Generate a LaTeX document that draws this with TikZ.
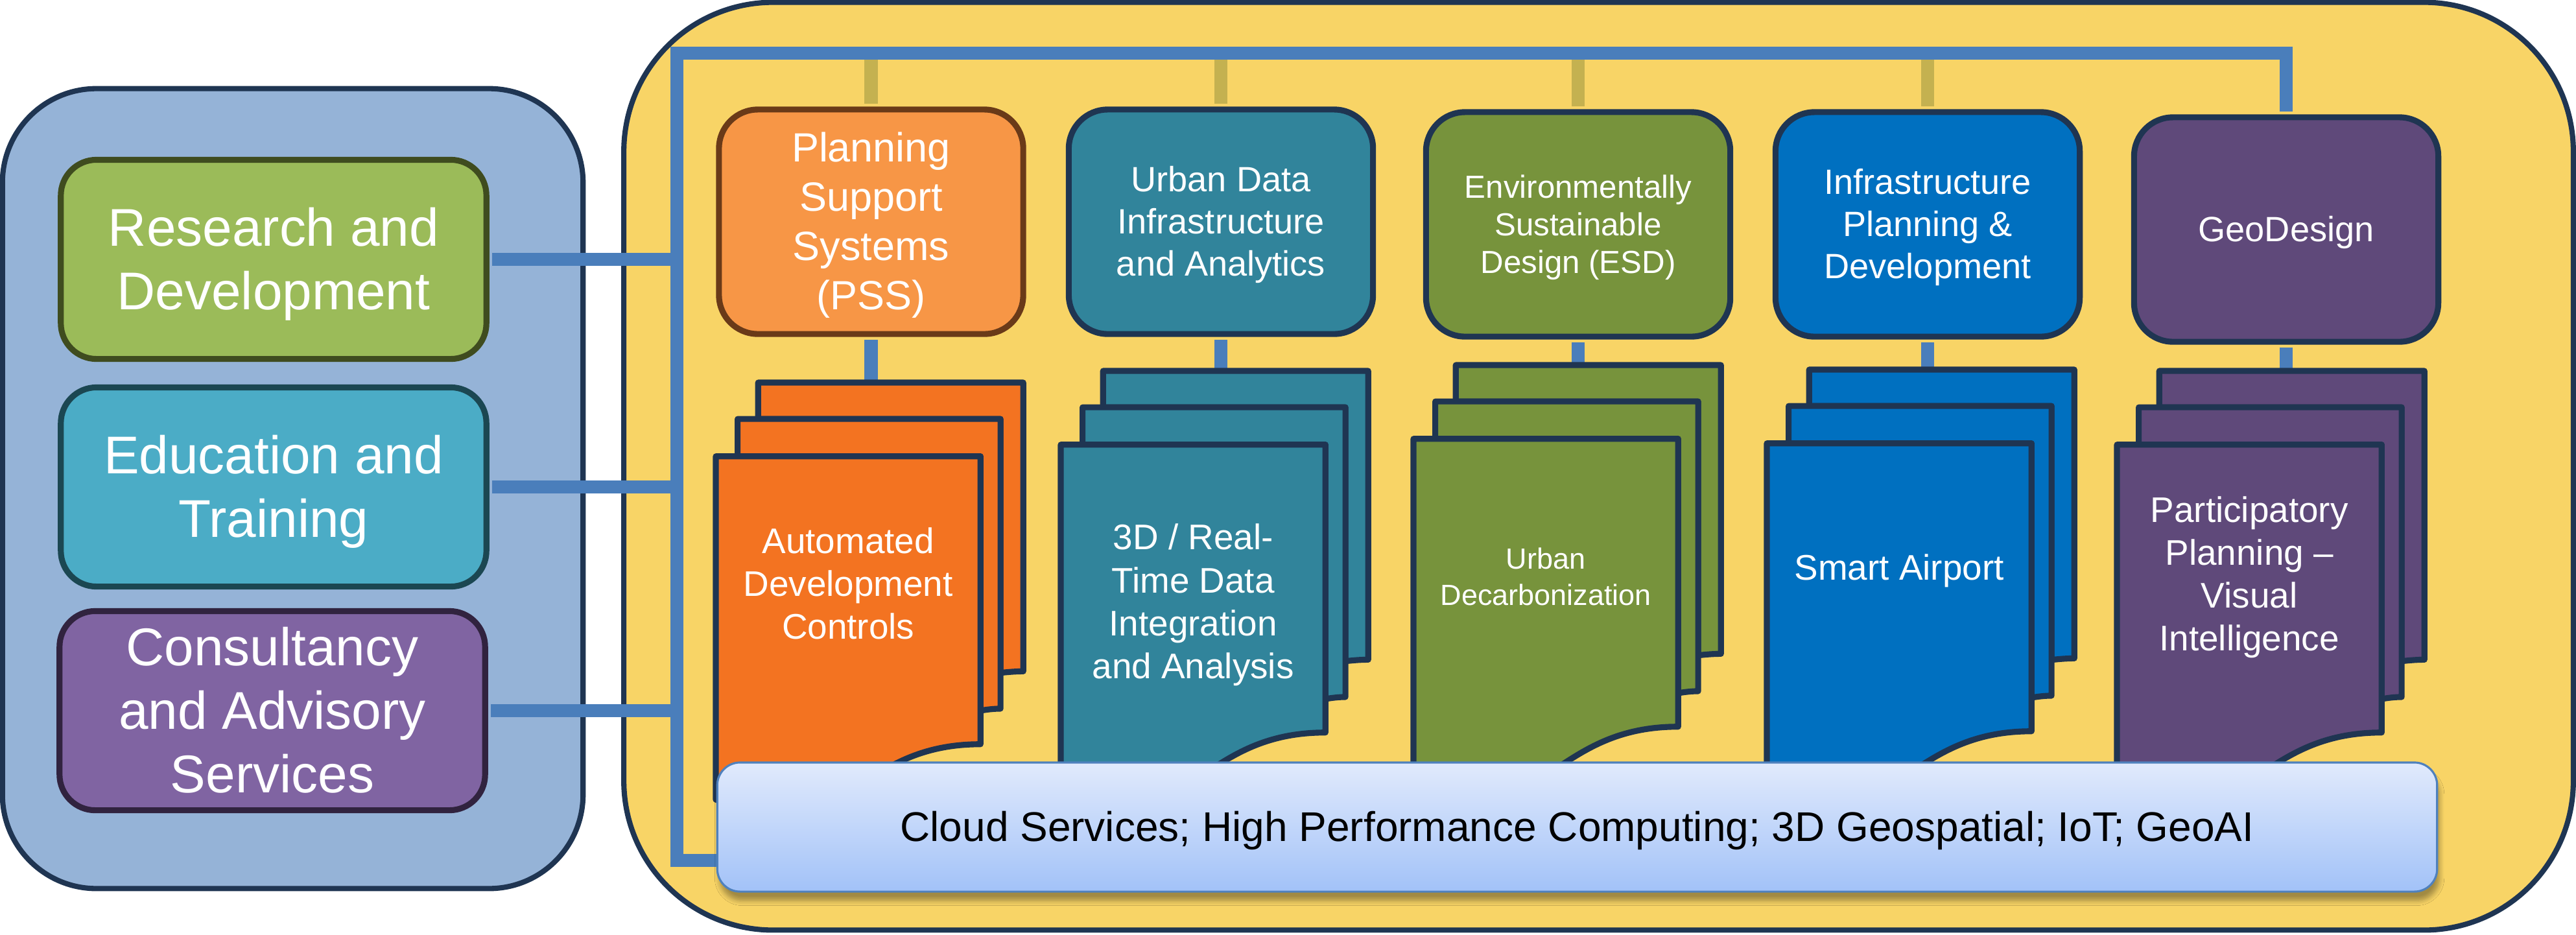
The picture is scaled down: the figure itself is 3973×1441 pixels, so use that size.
\documentclass[tikz,border=0pt]{standalone}
\usepackage{fontspec}
\setmainfont{Liberation Sans}
\usetikzlibrary{shadows.blur}
\definecolor{navy}{HTML}{1F3552}
\definecolor{bluebg}{HTML}{95B3D7}
\definecolor{yellowbg}{HTML}{F8D466}
\definecolor{busblue}{HTML}{4A7EBB}
\definecolor{khaki}{HTML}{C4B150}
\definecolor{rndgreen}{HTML}{9BBB59}
\definecolor{rndedge}{HTML}{3F4C1F}
\definecolor{edublue}{HTML}{4BACC6}
\definecolor{eduedge}{HTML}{1B4752}
\definecolor{conpurple}{HTML}{8064A2}
\definecolor{conedge}{HTML}{31233F}
\definecolor{pssorange}{HTML}{F79646}
\definecolor{pssedge}{HTML}{6A3A18}
\definecolor{pssdoc}{HTML}{F37321}
\definecolor{udateal}{HTML}{31849B}
\definecolor{esdgreen}{HTML}{77933C}
\definecolor{ipdblue}{HTML}{0070C0}
\definecolor{geopurple}{HTML}{5F497A}
\definecolor{cloudtop}{HTML}{E1EAFC}
\definecolor{cloudbottom}{HTML}{A2C2F8}
\definecolor{cloudedge}{HTML}{4F81BD}
\newcommand{\linestrut}{\rule[-0.21em]{0pt}{1.115em}}

\begin{document}
\begin{tikzpicture}[x=0.01cm, y=-0.01cm,
    every node/.style={align=center, text=white, inner sep=0pt},
    panel/.style={draw=navy, line width=2.3pt},
    boxtext/.style={execute at end node=\linestrut},
    leftbox/.style={boxtext, draw, line width=2.6pt, rounded corners=0.55cm, minimum width=6.56cm, minimum height=3.07cm, font=\fontsize{23.3pt}{27.9pt}\selectfont},
    topbox/.style={boxtext, draw=navy, line width=2.6pt, rounded corners=0.6cm, minimum width=4.69cm, minimum height=3.46cm, font=\fontsize{15.4pt}{18.5pt}\selectfont},
    docpage/.style={draw=navy, line width=2.6pt, line join=round},
    doctext/.style={font=\fontsize{15.6pt}{18.8pt}\selectfont},
    bus/.style={draw=busblue, line width=5.7pt},
    stub/.style={draw=khaki, line width=5.7pt},
    cloudbox/.style={boxtext, draw=cloudedge, line width=0.9pt, rounded corners=0.35cm, top color=cloudtop, bottom color=cloudbottom, minimum width=26.51cm, minimum height=1.99cm, text=black, font=\fontsize{18.2pt}{21.8pt}\selectfont, blur shadow={shadow xshift=1pt, shadow yshift=-4pt, shadow blur steps=6, shadow opacity=35}}]
    \useasboundingbox (0,0) rectangle (3973,1441);

    \node[panel, fill=bluebg, rounded corners=1.45cm, minimum width=8.95cm, minimum height=12.33cm] (services) at (451.5,753.5) {};
    \node[panel, fill=yellowbg, rounded corners=2.3cm, minimum width=30.05cm, minimum height=14.3cm] (platform) at (2465.5,719) {};

    \node[leftbox, fill=rndgreen, draw=rndedge] (rnd) at (422,400) {\linestrut Research and\\Development};
    \node[leftbox, fill=edublue, draw=eduedge] (edu) at (422,751) {\linestrut Education and\\Training};
    \node[leftbox, fill=conpurple, draw=conedge] (con) at (420,1096) {\linestrut Consultancy\\and Advisory\\Services};

    \node[topbox, fill=pssorange, draw=pssedge, font=\fontsize{17.9pt}{21.6pt}\selectfont] (pss) at (1343.5,342) {\linestrut Planning\\Support\\Systems\\(PSS)};
    \node[topbox, fill=udateal] (uda) at (1883,342) {\linestrut Urban Data\\Infrastructure\\and Analytics};
    \node[topbox, fill=esdgreen, font=\fontsize{14pt}{16.5pt}\selectfont] (esd) at (2434,346) {\linestrut Environmentally\\Sustainable\\Design (ESD)};
    \node[topbox, fill=ipdblue] (ipd) at (2973,346) {\linestrut Infrastructure\\Planning \&\\Development};
    \node[topbox, fill=geopurple] (geo) at (3526,354) {\linestrut GeoDesign};

    \coordinate (bustop) at (1044,82);
    \coordinate (busbottom) at (1044,1327);
    \coordinate (busend) at (1130,1327);

    \foreach \n in {pss,uda,esd,ipd} {\draw[stub, shorten <=1.3pt] (\n.north) -- (\n.north |- bustop);}
    \draw[bus, shorten <=1.3pt] (geo.north) |- (bustop) -- (busbottom) -- (busend);
    \foreach \n in {rnd,edu,con} {\draw[bus, shorten <=1.3pt] (\n.east) -- (\n.east -| bustop);}

    \foreach \n/\x/\y/\col/\ty in {pss/1104/590/pssdoc/46.4, uda/1636/572/udateal/54, esd/2180/563/esdgreen/48.8, ipd/2725/570/ipdblue/46.4, geo/3265/572/geopurple/47.6}{
        \begin{scope}[shift={(\x,\y)}, x=0.0474cm, y=-0.0668cm]
            \coordinate (\n-back) at (56.88,0);
            \coordinate (\n-doc) at (43.05,\ty);
            \draw[bus, shorten <=1.3pt] (\n.south) -- (\n.south |- \n-back);
            \draw[docpage, fill=\col] (13.76,8.40) -- (13.76,0) -- (100,0) -- (100,66.63) .. controls (96.30,66.63) and (92.59,66.98) .. (92.59,66.98) -- (92.59,8.40) -- cycle;
            \draw[docpage, fill=\col] (7.09,17.01) -- (7.09,8.40) -- (92.59,8.40) -- (92.59,75.24) .. controls (89.34,75.24) and (86.09,75.70) .. (86.09,75.70) -- (86.09,17.01) -- cycle;
            \draw[docpage, fill=\col] (0,96.21) .. controls (43.05,108.99) and (43.05,83.44) .. (86.09,83.44) -- (86.09,17.01) -- (0,17.01) -- cycle;
        \end{scope}
    }

    \node[doctext] (pssnote) at (pss-doc) {Automated\\Development\\Controls};
    \node[doctext] (udanote) at (uda-doc) {3D / Real-\\Time Data\\Integration\\and Analysis};
    \node[doctext, font=\fontsize{12.8pt}{15.9pt}\selectfont] (esdnote) at (esd-doc) {Urban\\Decarbonization};
    \node[doctext] (ipdnote) at (ipd-doc) {Smart Airport};
    \node[doctext] (geonote) at (geo-doc) {Participatory\\Planning –\\Visual\\Intelligence};

    \node[cloudbox] (cloud) at (2432.5,1275.5) {\linestrut Cloud Services; High Performance Computing; 3D Geospatial; IoT; GeoAI};
\end{tikzpicture}
\end{document}
